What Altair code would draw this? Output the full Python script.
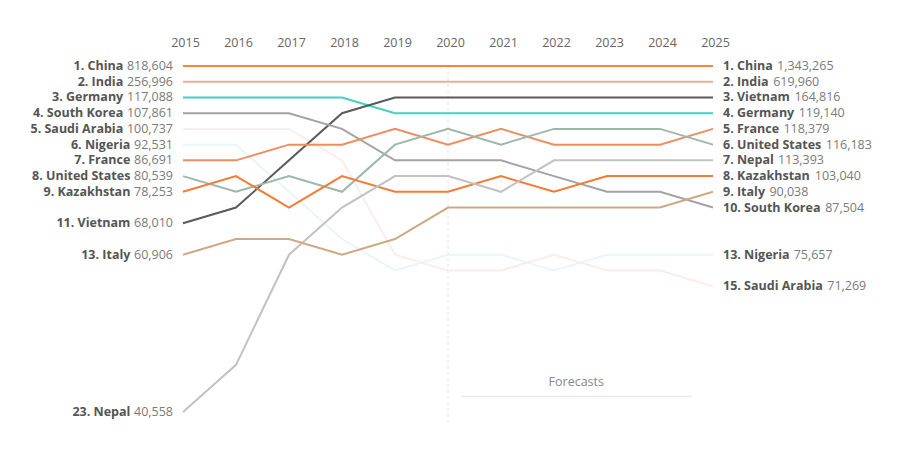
import altair as alt
import pandas as pd

years = list(range(2015, 2026))

countries = ["China", "India", "Germany", "Vietnam", "South Korea", "France",
             "United States", "Kazakhstan", "Nepal", "Italy", "Nigeria", "Saudi Arabia"]

rank_china = [1, 1, 1, 1, 1, 1, 1, 1, 1, 1, 1]
rank_india = [2, 2, 2, 2, 2, 2, 2, 2, 2, 2, 2]
rank_germany = [3, 3, 3, 3, 4, 4, 4, 4, 4, 4, 4]
rank_vietnam = [11, 10, 7, 4, 3, 3, 3, 3, 3, 3, 3]
rank_south_korea = [4, 4, 4, 5, 7, 7, 7, 8, 9, 9, 10]
rank_france = [7, 7, 6, 6, 5, 6, 5, 6, 6, 6, 5]
rank_us = [8, 9, 8, 9, 6, 5, 6, 5, 5, 5, 6]
rank_kazakhstan = [9, 8, 10, 8, 9, 9, 8, 9, 8, 8, 8]
rank_nepal = [23, 20, 13, 10, 8, 8, 9, 7, 7, 7, 7]
rank_italy = [13, 12, 12, 13, 12, 10, 10, 10, 10, 10, 9]
rank_nigeria = [6, 6, 9, 12, 14, 13, 13, 14, 13, 13, 13]
rank_saudi = [5, 5, 5, 7, 13, 14, 14, 13, 14, 14, 15]

all_ranks = [rank_china, rank_india, rank_germany, rank_vietnam, rank_south_korea,
             rank_france, rank_us, rank_kazakhstan, rank_nepal, rank_italy,
             rank_nigeria, rank_saudi]

value_2015 = [818604, 256996, 117088, 68010, 107861, 86691, 80539, 78253, 40558,
              60906, 92531, 100737]
value_2025 = [1343265, 619960, 119140, 164816, 87504, 118379, 116183, 103040, 113393,
              90038, 75657, 71269]

colors = ["#F5843F", "#E8AE92", "#3FD4BF", "#5A5A5A", "#A3A3A3", "#F08D60",
          "#9DB8AA", "#F57B34", "#C2C2C2", "#CBAA84", "#EAF6F6", "#FCECEA"]

faint = ["Nigeria", "Saudi Arabia"]

FONT = "Open Sans"
FS = 12.5

# ---- tables ----
rows = []
for c, rk in zip(countries, all_ranks):
    for y, r in zip(years, rk):
        rows.append({"country": c, "year": y, "rank": r})
df = pd.DataFrame(rows)

lab_rows = []
for c, rk, v0, v1 in zip(countries, all_ranks, value_2015, value_2025):
    lab_rows.append({
        "country": c,
        "rank_start": rk[0],
        "rank_end": rk[-1],
        "left_name": f"{rk[0]}. {c}",
        "left_value": f"{v0:,}",
        "right_name": f"{rk[-1]}. {c}",
        "right_value": f"{v1:,}",
    })
lab = pd.DataFrame(lab_rows)

# approximate text widths (em) for Open Sans
REG = {",": 0.25, ".": 0.27, " ": 0.26}
BOLD = {'A': 0.71, 'C': 0.64, 'F': 0.56, 'G': 0.73, 'I': 0.37, 'K': 0.68, 'N': 0.82,
        'S': 0.55, 'U': 0.77, 'V': 0.67, 'a': 0.61, 'b': 0.63, 'c': 0.52, 'd': 0.63,
        'e': 0.60, 'g': 0.56, 'h': 0.67, 'i': 0.31, 'k': 0.64, 'l': 0.31, 'm': 1.0,
        'n': 0.67, 'o': 0.63, 'p': 0.63, 'r': 0.45, 's': 0.51, 't': 0.43, 'u': 0.67,
        'v': 0.57, 'y': 0.57, 'z': 0.49, '.': 0.29, ' ': 0.26}


def w_reg(s):
    return sum(REG.get(ch, 0.572) for ch in s) * FS


def w_bold(s):
    return sum(BOLD.get(ch, 0.572 if ch.isdigit() else 0.6) for ch in s) * FS


xscale = alt.Scale(domain=[years[0], years[-1]], nice=False, zero=False)
yscale = alt.Scale(domain=[1, 23], reverse=True, nice=False, zero=False)
xaxis = alt.Axis(orient="top", values=years, format="d", title=None, domain=False,
                 ticks=False, tickSize=0, grid=False, labelPadding=17, tickOffset=2,
                 labelFlush=False, labelOverlap=False, labelBound=False,
                 labelFontSize=FS, labelColor="#666666", labelFont=FONT)

X = alt.X("year:Q", scale=xscale, axis=xaxis)
Y = alt.Y("rank:Q", scale=yscale, axis=None)
color = alt.Color("country:N", scale=alt.Scale(domain=countries, range=colors), legend=None)

base = alt.Chart(df)

faint_lines = base.transform_filter(
    alt.FieldOneOfPredicate(field="country", oneOf=faint)
).mark_line(strokeWidth=2).encode(x=X, y=Y, color=color, detail="country:N")

main_lines = base.transform_filter(
    {"not": alt.FieldOneOfPredicate(field="country", oneOf=faint)}
).mark_line(strokeWidth=2).encode(x=X, y=Y, color=color, detail="country:N")

# annotations
ann_x = [2020]
vline = alt.Chart(pd.DataFrame({"x": ann_x, "y1": [1], "y2": [23.8]})).mark_rule(
    color="#E4E4E4", strokeDash=[3, 3], strokeWidth=1
).encode(
    x=alt.X("x:Q", scale=xscale, axis=xaxis),
    y=alt.Y("y1:Q", scale=yscale, axis=None),
    y2="y2:Q",
)

fc_line = alt.Chart(pd.DataFrame({"x1": [2020.25], "x2": [2024.6], "y": [22.0]})).mark_rule(
    color="#E6E6E6", strokeWidth=1
).encode(
    x=alt.X("x1:Q", scale=xscale, axis=xaxis),
    x2="x2:Q",
    y=alt.Y("y:Q", scale=yscale, axis=None),
)

fc_text = alt.Chart(pd.DataFrame({"x": [2022.42], "y": [21.1], "t": ["Forecasts"]})).mark_text(
    font=FONT, fontSize=FS, color="#888888", baseline="middle", align="center"
).encode(
    x=alt.X("x:Q", scale=xscale, axis=xaxis),
    y=alt.Y("y:Q", scale=yscale, axis=None),
    text="t:N",
)

XL = alt.X(datum=years[0], type="quantitative", scale=xscale, axis=xaxis)
XR = alt.X(datum=years[-1], type="quantitative", scale=xscale, axis=xaxis)

lab_base = alt.Chart(lab)

left_values = lab_base.mark_text(
    align="right", baseline="middle", dx=-10, font=FONT, fontSize=FS, color="#7A7A7A"
).encode(x=XL, y=alt.Y("rank_start:Q", scale=yscale, axis=None), text="left_value:N")

right_names = lab_base.mark_text(
    align="left", baseline="middle", dx=10, font=FONT, fontSize=FS, fontWeight="bold",
    color="#555555"
).encode(x=XR, y=alt.Y("rank_end:Q", scale=yscale, axis=None), text="right_name:N")

per_row = []
for r in lab_rows:
    dxl = -10 - w_reg(r["left_value"]) - 0.3 * FS
    per_row.append(
        lab_base.transform_filter(alt.datum.country == r["country"]).mark_text(
            align="right", baseline="middle", dx=dxl, font=FONT, fontSize=FS,
            fontWeight="bold", color="#555555"
        ).encode(x=XL, y=alt.Y("rank_start:Q", scale=yscale, axis=None),
                 text="left_name:N")
    )
    dxr = 10 + w_bold(r["right_name"]) + 0.3 * FS
    per_row.append(
        lab_base.transform_filter(alt.datum.country == r["country"]).mark_text(
            align="left", baseline="middle", dx=dxr, font=FONT, fontSize=FS,
            color="#7A7A7A"
        ).encode(x=XR, y=alt.Y("rank_end:Q", scale=yscale, axis=None),
                 text="right_value:N")
    )

chart = alt.layer(
    vline, fc_line, fc_text, faint_lines, main_lines, left_values, right_names, *per_row
).properties(
    width=530,
    height=346,
    autosize=alt.AutoSizeParams(type="none"),
    padding={"left": 175, "top": 58, "right": 185, "bottom": 25},
    background="white",
).configure_view(stroke=None)

chart.save("out.html", embed_options={"renderer": "svg", "actions": False})
